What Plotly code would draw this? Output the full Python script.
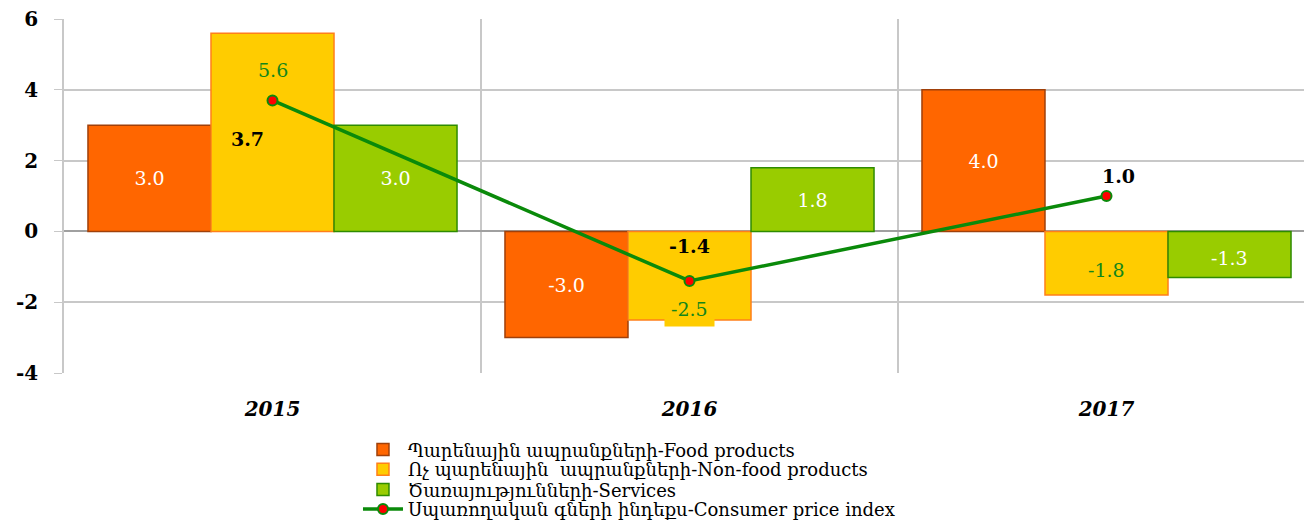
import plotly.graph_objects as go

years = ["2015", "2016", "2017"]
food = [3.0, -3.0, 4.0]
nonfood = [5.6, -2.5, -1.8]
services = [3.0, 1.8, -1.3]
cpi = [3.7, -1.4, 1.0]
ytick_vals = [-4, -2, 0, 2, 4, 6]
ytick_text = ["-4", "-2", "0", "2", "4", "6"]

names = [
    "Պարենային ապրանքների-Food products",
    "Ոչ պարենային  ապրանքների-Non-food products",
    "Ծառայությունների-Services",
    "Սպառողական գների ինդեքս-Consumer price index",
]

FONT = "DejaVu Serif, serif"
xpos = list(range(len(years)))
BARGAP = 0.115
nb = 3
bw = (1 - BARGAP) / nb  # width of each bar in axis units (as plotly lays out groups)

C_FOOD, C_NON, C_SERV, C_LINE = "#FF6600", "#FFCC00", "#99CC00", "#0A8A0A"
GREEN_TXT = "#13861A"

fig = go.Figure()
fig.add_trace(go.Bar(
    x=xpos, y=food, name=names[0], legend="legend",
    marker=dict(color=C_FOOD, line=dict(color="#A0400A", width=1.5)),
    text=[f"{v:.1f}" for v in food], textposition="inside", insidetextanchor="middle",
    textangle=0,
    textfont=dict(color="white", size=19, family=FONT), constraintext="none",
))
fig.add_trace(go.Bar(
    x=xpos, y=nonfood, name=names[1], legend="legend2",
    marker=dict(color=C_NON, line=dict(color="#FF7F1A", width=1.5)),
))
fig.add_trace(go.Bar(
    x=xpos, y=services, name=names[2], legend="legend3",
    marker=dict(color=C_SERV, line=dict(color="#2E8B00", width=1.5)),
    text=[f"{v:.1f}" if v > 0 else "" for v in services], textposition="inside",
    insidetextanchor="middle", textangle=0,
    textfont=dict(color="white", size=19, family=FONT), constraintext="none",
))
fig.add_trace(go.Scatter(
    x=xpos, y=cpi, name=names[3], mode="lines+markers", legend="legend4",
    line=dict(color=C_LINE, width=3.5),
    marker=dict(color="#FF0000", size=10, line=dict(color=C_LINE, width=2)),
))

# Non-food labels (green text, boxed like the original)
non_shift = [-37, 11, 25]
for i, v in enumerate(nonfood):
    fig.add_annotation(
        x=xpos[i], y=v, yshift=non_shift[i], showarrow=False,
        text=f"{v:.1f}", font=dict(color=GREEN_TXT, size=19, family=FONT),
        bgcolor=C_NON, borderpad=6,
    )
# Negative services label
for i, v in enumerate(services):
    if v < 0:
        fig.add_annotation(
            x=xpos[i] + bw, y=v, yshift=19, showarrow=False,
            text=f"{v:.1f}", font=dict(color="white", size=19, family=FONT),
            bgcolor=C_SERV, borderpad=5,
        )
# CPI labels
cpi_shift = [(-25, -39), (0, 35), (12, 20)]
for i, v in enumerate(cpi):
    fig.add_annotation(
        x=xpos[i], y=v, xshift=cpi_shift[i][0], yshift=cpi_shift[i][1], showarrow=False,
        text=f"<b>{v:.1f}</b>", font=dict(color="black", size=19, family=FONT),
    )

legend_common = dict(
    x=0.235, xanchor="left", yanchor="middle",
    font=dict(size=18, family=FONT), itemwidth=40, borderwidth=0,
    bgcolor="rgba(0,0,0,0)",
)
legend_y = [-0.217, -0.273, -0.330, -0.385]

fig.update_layout(
    width=1312, height=525,
    margin=dict(l=56, r=5, t=11, b=152),
    paper_bgcolor="white", plot_bgcolor="white",
    barmode="group", bargap=BARGAP, bargroupgap=0,
    font=dict(family=FONT, color="black"),
    showlegend=True,
    legend=dict(legend_common, y=legend_y[0]),
    legend2=dict(legend_common, y=legend_y[1]),
    legend3=dict(legend_common, y=legend_y[2]),
    legend4=dict(legend_common, y=legend_y[3]),
    xaxis=dict(
        range=[-0.5, 2.5], tickvals=xpos, ticktext=years,
        tickfont=dict(size=20, family=FONT, weight="bold", style="italic"),
        showgrid=False, showline=False, ticks="", ticklabelstandoff=22,
        minor=dict(tick0=0.5, dtick=1, showgrid=True, gridcolor="#C8C8C8", gridwidth=1.5),
        zeroline=False, automargin="bottom",
    ),
    yaxis=dict(
        range=[-4, 6], tickvals=ytick_vals, ticktext=ytick_text,
        tickfont=dict(size=20, family=FONT, weight="bold"),
        showgrid=True, gridcolor="#C8C8C8", gridwidth=1.5,
        zeroline=True, zerolinecolor="#A0A0A0", zerolinewidth=1.5,
        showline=True, linecolor="#C8C8C8", linewidth=1.5,
        ticks="outside", ticklen=8, tickcolor="#C8C8C8", ticklabelstandoff=12,
        ticklabeloverflow="allow", automargin="left",
    ),
)

fig.write_html("out.html")
